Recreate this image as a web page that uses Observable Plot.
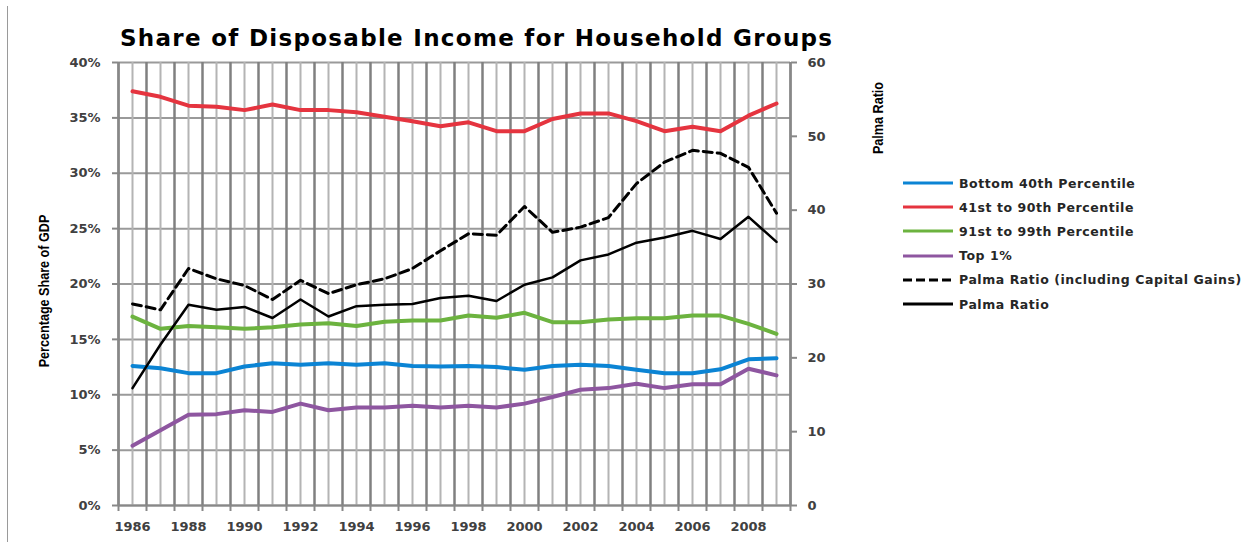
<!DOCTYPE html>
<html><head><meta charset="utf-8">
<script src="https://cdn.jsdelivr.net/npm/d3@7"></script>
<script src="https://cdn.jsdelivr.net/npm/@observablehq/plot@0.6"></script>
<style>
body{margin:0;background:#fff;}
#wrap{position:relative;width:1250px;height:542px;overflow:hidden;background:#fff;}
#chart{position:absolute;left:0;top:0;}
.border{position:absolute;left:7px;top:6px;width:0;height:540px;border-left:1.5px solid #9a9a9a;}
.title{position:absolute;left:120px;top:27px;font:bold 23px "DejaVu Sans";letter-spacing:1.3px;line-height:23px;color:#000;white-space:nowrap;}
.vlabel{position:absolute;font:bold 14px "Liberation Sans";color:#000;white-space:nowrap;transform:translate(-50%,-50%) rotate(-90deg) scaleX(0.9);}
.legend-row{position:absolute;left:903px;height:20px;display:flex;align-items:center;font:bold 12.5px "DejaVu Sans";letter-spacing:0.55px;color:#262626;white-space:nowrap;}
.legend-row svg{margin-right:6px;}
</style></head>
<body>
<div id="wrap">
  <div id="chart"></div>
  <div class="border"></div>
  <div class="title">Share of Disposable Income for Household Groups</div>
  <div class="vlabel" style="left:44px;top:291px;">Percentage Share of GDP</div>
  <div class="vlabel" style="left:878px;top:118px;">Palma Ratio</div>
  <div id="legend"></div>
</div>
<script>
// ---- data ----
const years = [1986,1987,1988,1989,1990,1991,1992,1993,1994,1995,1996,1997,1998,1999,2000,2001,2002,2003,2004,2005,2006,2007,2008,2009];
const bottom40 = [12.6,12.4,11.95,11.95,12.55,12.85,12.7,12.85,12.7,12.85,12.6,12.55,12.6,12.5,12.25,12.6,12.7,12.6,12.25,11.95,11.95,12.3,13.2,13.3];
const mid41to90 = [37.4,36.9,36.1,36.0,35.7,36.2,35.7,35.7,35.5,35.1,34.7,34.25,34.6,33.8,33.8,34.9,35.4,35.4,34.7,33.8,34.2,33.8,35.2,36.3];
const p91to99 = [17.05,15.95,16.2,16.1,15.95,16.1,16.35,16.45,16.2,16.6,16.7,16.7,17.15,16.95,17.4,16.55,16.55,16.8,16.9,16.9,17.15,17.15,16.4,15.5];
const top1 = [5.4,6.8,8.2,8.25,8.6,8.45,9.2,8.6,8.85,8.85,9.0,8.85,9.0,8.85,9.2,9.8,10.45,10.6,11.0,10.6,10.95,10.95,12.35,11.75];
const palmaCG = [27.3,26.5,32.1,30.7,29.8,27.9,30.5,28.7,29.9,30.7,32.1,34.5,36.8,36.6,40.5,37.0,37.7,39.0,43.6,46.5,48.1,47.7,45.8,39.6];
const palma = [15.9,21.8,27.2,26.5,26.9,25.4,27.9,25.6,27.0,27.2,27.3,28.1,28.4,27.7,29.9,30.9,33.2,34.0,35.6,36.3,37.2,36.1,39.1,35.7];

const leftTicks = [0,5,10,15,20,25,30,35,40];
const rightTicks = [0,10,20,30,40,50,60];
const yearLabels = [1986,1988,1990,1992,1994,1996,1998,2000,2002,2004,2006,2008];

const seriesNames = ["Bottom 40th Percentile","41st to 90th Percentile","91st to 99th Percentile","Top 1%","Palma Ratio (including Capital Gains)","Palma Ratio"];
const seriesColors = ["#0b84d4","#e5343f","#6cb33f","#8e56a0","#000000","#000000"];

// ---- build ----
const R = 40/60; // right axis (Palma) -> left axis scale factor
const rows = years.map((year,i)=>({year, bottom40:bottom40[i], mid:mid41to90[i], p91:p91to99[i], top1:top1[i], palmaCG:palmaCG[i], palma:palma[i]}));
const boundaries = years.map(y=>y-0.5).concat([years[years.length-1]+0.5]);

const plot = Plot.plot({
  width:1250, height:542,
  marginLeft:118, marginRight:460, marginTop:62, marginBottom:37,
  x:{domain:[boundaries[0], boundaries[boundaries.length-1]], label:null},
  y:{domain:[0,40], label:null},
  style:{fontFamily:"DejaVu Sans", fontSize:"13px", fontWeight:"bold", color:"#404040", background:"#fff", overflow:"visible"},
  marks:[
    Plot.ruleY(leftTicks, {stroke:"#9a9a9a", strokeWidth:2}),
    Plot.ruleX(years, {stroke:"#b4b4b4", strokeWidth:2}),
    Plot.ruleX(boundaries, {stroke:"#808080", strokeWidth:2.5}),
    Plot.axisY({ticks:leftTicks, tickFormat:d=>d+"%", tickSize:6, tickPadding:12, stroke:"#888", strokeWidth:2}),
    Plot.axisY({anchor:"right", ticks:rightTicks.map(v=>v*R), tickFormat:d=>String(Math.round(d/R)), tickSize:6, tickPadding:11, stroke:"#888", strokeWidth:2}),
    Plot.axisX({ticks:yearLabels, tickFormat:d=>String(d), tickSize:0, tickPadding:16}),
    Plot.axisX({ticks:boundaries, tickFormat:()=>"", tickSize:6, stroke:"#888", strokeWidth:2}),
    Plot.ruleX([boundaries[0], boundaries[boundaries.length-1]], {stroke:"#888", strokeWidth:2}),
    Plot.ruleY([0], {stroke:"#888", strokeWidth:2}),
    Plot.line(rows, {x:"year", y:"bottom40", stroke:seriesColors[0], strokeWidth:4, strokeLinejoin:"round", strokeLinecap:"round"}),
    Plot.line(rows, {x:"year", y:"mid", stroke:seriesColors[1], strokeWidth:4, strokeLinejoin:"round", strokeLinecap:"round"}),
    Plot.line(rows, {x:"year", y:"p91", stroke:seriesColors[2], strokeWidth:4, strokeLinejoin:"round", strokeLinecap:"round"}),
    Plot.line(rows, {x:"year", y:"top1", stroke:seriesColors[3], strokeWidth:4, strokeLinejoin:"round", strokeLinecap:"round"}),
    Plot.line(rows, {x:"year", y:d=>d.palmaCG*R, stroke:seriesColors[4], strokeWidth:3, strokeDasharray:"9,5", strokeLinejoin:"round"}),
    Plot.line(rows, {x:"year", y:d=>d.palma*R, stroke:seriesColors[5], strokeWidth:2.5, strokeLinejoin:"round"})
  ]
});
document.getElementById("chart").appendChild(plot);

// ---- legend ----
const legend = document.getElementById("legend");
const rowTop = 183, rowStep = 24.2;
seriesNames.forEach((name,i)=>{
  const row = document.createElement("div");
  row.className = "legend-row";
  row.style.top = (rowTop + i*rowStep - 10) + "px";
  const dash = i===4 ? 'stroke-dasharray="9,4"' : '';
  row.innerHTML = `<svg width="50" height="6"><line x1="0" y1="3" x2="50" y2="3" stroke="${seriesColors[i]}" stroke-width="3" ${dash}/></svg><span>${name}</span>`;
  legend.appendChild(row);
});
</script>
</body></html>
